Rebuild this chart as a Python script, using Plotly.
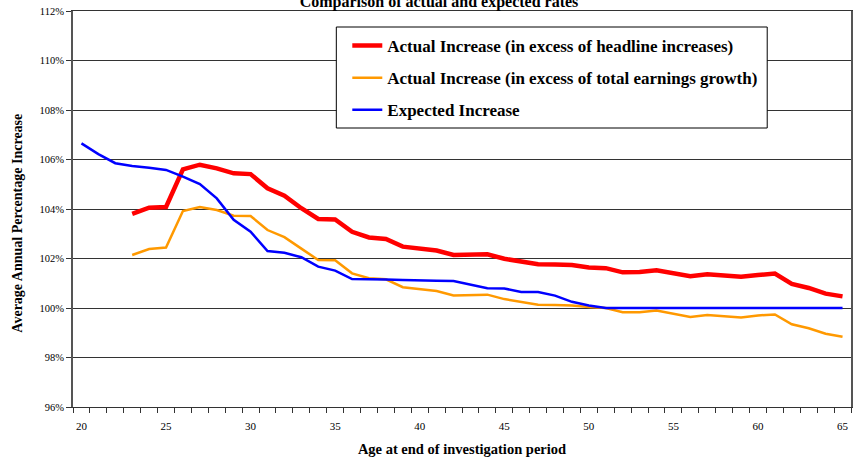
import plotly.graph_objects as go

ages = list(range(20, 66))

headline_ages = list(range(23, 66))
headline = [103.80, 104.05, 104.08, 105.60, 105.79, 105.64, 105.44, 105.41, 104.84, 104.54,
            104.03, 103.60, 103.58, 103.08, 102.85, 102.79, 102.48, 102.38, 102.32, 102.14,
            102.14, 102.17, 101.99, 101.87, 101.77, 101.76, 101.74, 101.64, 101.61, 101.44,
            101.45, 101.52, 101.39, 101.28, 101.36, 101.29, 101.26, 101.33, 101.39, 100.97,
            100.81, 100.58, 100.47]

earnings_ages = list(range(23, 66))
earnings = [102.14, 102.38, 102.44, 103.92, 104.08, 103.96, 103.73, 103.72, 103.15, 102.86,
            102.40, 101.94, 101.93, 101.40, 101.20, 101.16, 100.84, 100.76, 100.69, 100.51,
            100.51, 100.54, 100.36, 100.24, 100.13, 100.12, 100.10, 100.04, 100.00, 99.83,
            99.83, 99.90, 99.76, 99.64, 99.72, 99.66, 99.62, 99.70, 99.74, 99.34,
            99.18, 98.96, 98.84]

expected_ages = list(range(20, 66))
expected = [106.65, 106.22, 105.85, 105.74, 105.67, 105.58, 105.31, 105.01, 104.43, 103.56,
            103.08, 102.30, 102.23, 102.05, 101.67, 101.51, 101.17, 101.17, 101.15, 101.13,
            101.13, 101.10, 101.09, 100.95, 100.80, 100.79, 100.65, 100.65, 100.50, 100.25,
            100.10, 100.00, 100.00, 100.00, 100.00, 100.00, 100.00, 100.00, 100.00, 100.00,
            100.00, 100.00, 100.00, 100.00, 100.00, 100.00]

names = ["Actual Increase (in excess of headline increases)",
         "Actual Increase (in excess of total earnings growth)",
         "Expected Increase"]

x_tick_labels = [20, 25, 30, 35, 40, 45, 50, 55, 60, 65]
y_ticks = [96, 98, 100, 102, 104, 106, 108, 110, 112]

FONT = "Liberation Serif"

fig = go.Figure()
fig.add_trace(go.Scatter(x=headline_ages, y=headline, mode="lines", name=names[0],
                         legendgroup="a", line=dict(color="#ff0000", width=4.5)))
fig.add_trace(go.Scatter(x=earnings_ages, y=earnings, mode="lines", name=names[1],
                         legendgroup="b", line=dict(color="#ff9900", width=2.5)))
fig.add_trace(go.Scatter(x=expected_ages, y=expected, mode="lines", name=names[2],
                         legendgroup="c", line=dict(color="#0000ff", width=2.5)))

W, H = 857, 464
ml, mr, mt, mb = 73, 4, 11, 57
pw, ph = W - ml - mr, H - mt - mb

def px(xp):
    return (xp - ml) / pw

def py(yp):
    return 1 - (yp - mt) / ph

fig.update_layout(
    width=W, height=H,
    margin=dict(l=ml, r=mr, t=mt, b=mb),
    paper_bgcolor="white", plot_bgcolor="white",
    font=dict(family=FONT, color="black", size=11),
    showlegend=True,
    legend=dict(x=px(348), y=py(28), xanchor="left", yanchor="top",
                bgcolor="rgba(0,0,0,0)", borderwidth=0,
                font=dict(family=FONT, size=17, color="black", weight="bold"),
                tracegroupgap=7, itemwidth=30),
    xaxis=dict(range=[19.5, 65.5], tickvals=x_tick_labels, ticktext=[str(v) for v in x_tick_labels],
               ticks="", showgrid=False, zeroline=False,
               showline=True, linecolor="#333333", linewidth=1, mirror=True,
               tickfont=dict(family=FONT, size=11), ticklabelstandoff=9,
               minor=dict(tick0=19.5, dtick=1, ticks="outside", ticklen=5, tickcolor="#333333",
                          showgrid=False),
               title=dict(text="Age at end of investigation period", standoff=12,
                          font=dict(family=FONT, size=14.5, weight="bold"))),
    yaxis=dict(range=[96, 112], tickvals=y_ticks, ticktext=[f"{v}%" for v in y_ticks],
               ticks="outside", ticklen=5, tickcolor="#333333",
               showgrid=True, gridcolor="#333333", gridwidth=1, zeroline=False,
               showline=True, linecolor="#555555", linewidth=2, mirror=True,
               tickfont=dict(family=FONT, size=10.5)),
    title=dict(text="Comparison of actual and expected rates", x=439 / W, xanchor="center",
               xref="container", yref="container", y=1 - 1.5 / H, yanchor="middle",
               font=dict(family=FONT, size=16, weight="bold")),
    annotations=[dict(text="Average Annual Percentage Increase", textangle=-90,
                      xref="paper", yref="paper", x=px(17), y=py(223.5),
                      xanchor="center", yanchor="middle", showarrow=False,
                      font=dict(family=FONT, size=14, weight="bold", color="black"))],
    shapes=[dict(type="rect", xref="paper", yref="paper",
                 x0=px(337), x1=px(769), y0=py(128), y1=py(27),
                 line=dict(color="black", width=1), fillcolor="white", layer="above")],
)

fig.write_html("out.html", config={"displayModeBar": False},
               post_script="document.body.style.margin='0';")
